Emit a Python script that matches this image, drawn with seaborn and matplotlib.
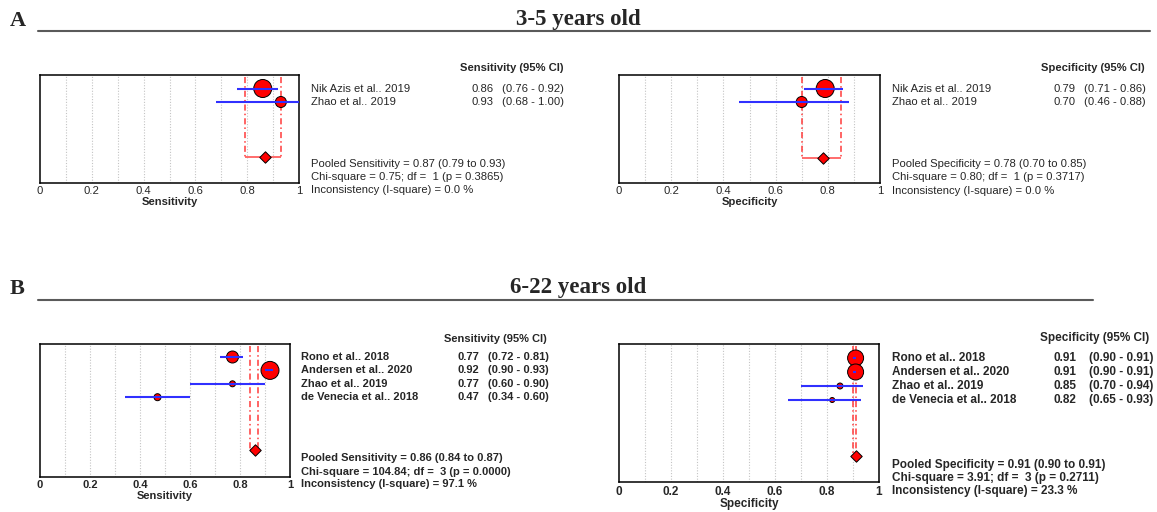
import numpy as np
import pandas as pd
import matplotlib
matplotlib.use("Agg")
import matplotlib.pyplot as plt
from matplotlib.lines import Line2D
import seaborn as sns

W, H = 1157, 512

# ---- 3-5 years old ----
young_studies = ["Nik Azis et al.. 2019", "Zhao et al.. 2019"]
young_sens = [0.86, 0.93]
young_sens_lo = [0.76, 0.68]
young_sens_hi = [0.92, 1.00]
young_sens_weight = [18, 11]      # marker diameter (px), study weight
young_spec = [0.79, 0.70]
young_spec_lo = [0.71, 0.46]
young_spec_hi = [0.86, 0.88]
young_spec_weight = [18, 11]
young_sens_pooled = [0.87, 0.79, 0.93]
young_spec_pooled = [0.78, 0.70, 0.85]
young_sens_stats = ["Pooled Sensitivity = 0.87 (0.79 to 0.93)",
                    "Chi-square = 0.75; df =  1 (p = 0.3865)",
                    "Inconsistency (I-square) = 0.0 %"]
young_spec_stats = ["Pooled Specificity = 0.78 (0.70 to 0.85)",
                    "Chi-square = 0.80; df =  1 (p = 0.3717)",
                    "Inconsistency (I-square) = 0.0 %"]

# ---- 6-22 years old ----
old_studies = ["Rono et al.. 2018", "Andersen et al.. 2020",
               "Zhao et al.. 2019", "de Venecia et al.. 2018"]
old_sens = [0.77, 0.92, 0.77, 0.47]
old_sens_lo = [0.72, 0.90, 0.60, 0.34]
old_sens_hi = [0.81, 0.93, 0.90, 0.60]
old_sens_weight = [12, 18, 6, 7]
old_spec = [0.91, 0.91, 0.85, 0.82]
old_spec_lo = [0.90, 0.90, 0.70, 0.65]
old_spec_hi = [0.91, 0.91, 0.94, 0.93]
old_spec_weight = [16, 16, 6, 5]
old_sens_pooled = [0.86, 0.84, 0.87]
old_spec_pooled = [0.91, 0.90, 0.91]
old_sens_stats = ["Pooled Sensitivity = 0.86 (0.84 to 0.87)",
                  "Chi-square = 104.84; df =  3 (p = 0.0000)",
                  "Inconsistency (I-square) = 97.1 %"]
old_spec_stats = ["Pooled Specificity = 0.91 (0.90 to 0.91)",
                  "Chi-square = 3.91; df =  3 (p = 0.2711)",
                  "Inconsistency (I-square) = 23.3 %"]

tick_vals = [0, 0.2, 0.4, 0.6, 0.8, 1]
tick_labels = ["0", "0.2", "0.4", "0.6", "0.8", "1"]

sns.set_style("white")
plt.rcParams["font.family"] = ["Liberation Sans", "DejaVu Sans"]

fig = plt.figure(figsize=(W / 100, H / 100), dpi=100)


def fx(x):
    return x / W


def fy(y):
    return 1 - y / H


def forest(studies, est, lo, hi, weight, pooled, stats, measure, lay):
    l, t, r, b = lay["box"]
    ax = fig.add_axes([fx(l), fy(b), (r - l) / W, (b - t) / H])
    row0, step = lay["row0"], lay["step"]
    ax.set_xlim(0, 1)
    ax.set_ylim((b - row0) / step, (t - row0) / step)
    d_row = (lay["diamond"] - row0) / step
    top_row = (t - row0) / step

    df = pd.DataFrame({"est": est, "lo": lo, "hi": hi,
                       "row": np.arange(len(studies))})
    area = (np.array(weight) * 0.72) ** 2

    # grid
    ax.vlines(np.arange(1, 10) / 10, *ax.get_ylim(), colors="#c4c4c4",
              linestyles=(0, (1, 1.5)), lw=0.8, zorder=0)

    # pooled CI bracket
    ax.vlines(pooled[1:], top_row + 0.15, d_row, colors="#ff3a3a",
              linestyles=(0, (4, 2, 1, 2)), lw=1.1, zorder=2)
    ax.hlines(d_row, pooled[1], pooled[2], colors="#ff6060", lw=1.3, zorder=2)

    sns.scatterplot(data=df, x="est", y="row", s=area, color="red",
                    edgecolor="black", linewidth=0.7, ax=ax, zorder=3,
                    legend=False)
    ax.hlines(df["row"], df["lo"], df["hi"], colors="#3030ff", lw=1.5, zorder=4)
    sns.scatterplot(x=[pooled[0]], y=[d_row], marker="D", s=34, color="red",
                    edgecolor="black", linewidth=0.7, ax=ax, zorder=5,
                    legend=False)

    fw = lay["weight"]
    fs = lay["fs"]
    ax.set_xticks(tick_vals)
    ax.set_xticklabels(tick_labels, fontsize=fs, fontweight=fw)
    ax.set_yticks([])
    ax.tick_params(axis="x", length=0, pad=lay["pad"])
    ax.set_xlabel(measure, fontsize=fs, fontweight="bold", labelpad=lay["lpad"])
    ax.set_ylabel("")
    for sp in ax.spines.values():
        sp.set_visible(True)
        sp.set_color("black")
        sp.set_linewidth(1.1)

    # text columns
    fig.text(fx(lay["head_x"]), fy(lay["head_y"]), measure + " (95% CI)",
             fontsize=fs, fontweight="bold", va="center")
    for i, name in enumerate(studies):
        y = fy(row0 + i * step)
        fig.text(fx(lay["name_x"]), y, name, fontsize=fs, fontweight=fw, va="center")
        fig.text(fx(lay["val_x"]), y, f"{est[i]:.2f}", fontsize=fs, fontweight=fw, va="center")
        fig.text(fx(lay["ci_x"]), y, f"({lo[i]:.2f} - {hi[i]:.2f})", fontsize=fs,
                 fontweight=fw, va="center")
    for y, s in zip(lay["stats_y"], stats):
        fig.text(fx(lay["name_x"]), fy(y), s, fontsize=fs, fontweight=fw, va="center")
    return ax


forest(young_studies, young_sens, young_sens_lo, young_sens_hi, young_sens_weight,
       young_sens_pooled, young_sens_stats, "Sensitivity",
       dict(box=(40, 75, 299, 183), row0=88.5, step=13.5, diamond=157,
            name_x=311, val_x=472, ci_x=502, head_x=460, head_y=68,
            stats_y=(164, 177, 190), fs=8.1, weight="normal", pad=2, lpad=1))
forest(young_studies, young_spec, young_spec_lo, young_spec_hi, young_spec_weight,
       young_spec_pooled, young_spec_stats, "Specificity",
       dict(box=(619, 75, 880, 183), row0=88.5, step=13.5, diamond=158,
            name_x=892, val_x=1053, ci_x=1084, head_x=1041, head_y=68,
            stats_y=(164, 177, 191), fs=8.1, weight="normal", pad=2, lpad=1))
forest(old_studies, old_sens, old_sens_lo, old_sens_hi, old_sens_weight,
       old_sens_pooled, old_sens_stats, "Sensitivity",
       dict(box=(40, 344, 290, 477), row0=357, step=13.4, diamond=450,
            name_x=301, val_x=458, ci_x=488, head_x=444, head_y=339,
            stats_y=(458, 472, 484), fs=8.0, weight="bold", pad=2, lpad=1))
forest(old_studies, old_spec, old_spec_lo, old_spec_hi, old_spec_weight,
       old_spec_pooled, old_spec_stats, "Specificity",
       dict(box=(619, 344, 879, 482), row0=358, step=14, diamond=456,
            name_x=892, val_x=1053, ci_x=1089, head_x=1040, head_y=338,
            stats_y=(465, 478, 491), fs=8.5, weight="bold", pad=3, lpad=0))

# section headers
for letter, title, base_y, line_y, line_end in [("A", "3-5 years old", 26, 31, 1150),
                                                ("B", "6-22 years old", 294, 300, 1093)]:
    fig.text(fx(10), fy(base_y), letter, family="Liberation Serif", fontweight="bold",
             fontsize=16, va="baseline")
    fig.text(fx(578), fy(base_y - 1), title, family="Liberation Serif",
             fontweight="bold", fontsize=16.5, va="baseline", ha="center")
    fig.add_artist(Line2D([fx(38), fx(line_end)], [fy(line_y), fy(line_y)],
                          color="#5a5a5a", lw=1.5))

fig.savefig("out.png", dpi=100)
